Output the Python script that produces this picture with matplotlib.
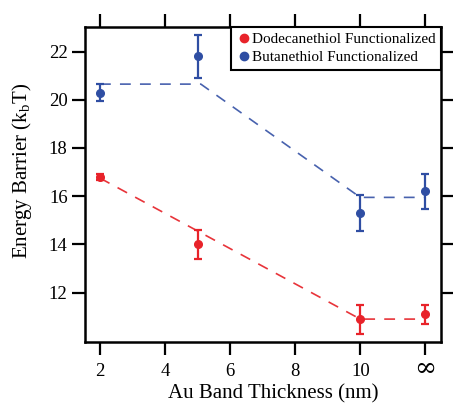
import matplotlib.pyplot as plt
from matplotlib.lines import Line2D
import numpy as np

# data
x_pos = [2, 5, 10, 12]          # 12 stands for the "infinity" position
tick_pos = [2, 4, 6, 8, 10, 12]
tick_labels = ['2', '4', '6', '8', '10', '∞']
ytick_pos = [12, 14, 16, 18, 20, 22]

dodecane = [16.8, 14.0, 10.9, 11.1]
dodecane_err = [0.12, 0.6, 0.6, 0.4]
butane = [20.3, 21.8, 15.3, 16.2]
butane_err = [0.35, 0.9, 0.75, 0.72]

# dashed guide lines (break points)
dodecane_fit_x = [2, 10, 12]
dodecane_fit_y = [16.75, 10.9, 10.9]
butane_fit_x = [2, 5.1, 10, 12]
butane_fit_y = [20.65, 20.65, 15.95, 15.95]

names = ['Dodecanethiol Functionalized', 'Butanethiol Functionalized']
red = '#e8232a'
blue = '#2f4ea3'

plt.rcParams['font.family'] = ['Liberation Serif', 'DejaVu Serif']

fig = plt.figure(figsize=(4.53, 4.03), dpi=100)
ax = fig.add_axes([0.1876, 0.1514, 0.7859, 0.7816])

ax.plot(dodecane_fit_x, dodecane_fit_y, color='#e8343a', lw=1.2, dashes=(6.5, 5.5))
ax.plot(butane_fit_x, butane_fit_y, color='#4862ae', lw=1.2, dashes=(6.5, 5.5))

ax.errorbar(x_pos, dodecane, yerr=dodecane_err, fmt='o', color=red, ms=5.5,
            elinewidth=1.6, capsize=2.8, capthick=1.6)
ax.errorbar(x_pos, butane, yerr=butane_err, fmt='o', color=blue, ms=5.5,
            elinewidth=1.6, capsize=2.8, capthick=1.6)

ax.set_xlim(1.54, 12.48)
ax.set_ylim(9.95, 23.02)
ax.set_xticks(tick_pos)
ax.set_xticklabels(tick_labels)
ax.set_yticks(ytick_pos)

ax.tick_params(direction='out', length=9.5, width=1.6, labelsize=13.5,
               top=True, right=True, labeltop=False, labelright=False, pad=3)
ax.tick_params(axis='x', pad=15)
for lab in ax.get_xticklabels():
    lab.set_verticalalignment('baseline')
inf_lab = ax.get_xticklabels()[-1]
inf_lab.set_fontfamily('DejaVu Serif')
inf_lab.set_fontsize(19)
for s in ax.spines.values():
    s.set_linewidth(1.8)

ax.set_xlabel('Au Band Thickness (nm)', fontsize=15)
ax.set_ylabel('Energy Barrier (k$_\\mathregular{b}$T)', fontsize=15)
ax.xaxis.set_label_coords(0.528, -0.133)
ax.yaxis.set_label_coords(-0.143, 0.544)

handles = [Line2D([], [], ls='', marker='o', color=red, ms=6),
           Line2D([], [], ls='', marker='o', color=blue, ms=6)]
leg = ax.legend(handles, names, loc='upper right', borderaxespad=0, fontsize=11,
                handletextpad=0.0, handlelength=1.0, borderpad=0.35, labelspacing=0.3,
                fancybox=False, framealpha=1, edgecolor='black')
leg.get_frame().set_linewidth(1.5)

fig.savefig('out.png', dpi=100)
